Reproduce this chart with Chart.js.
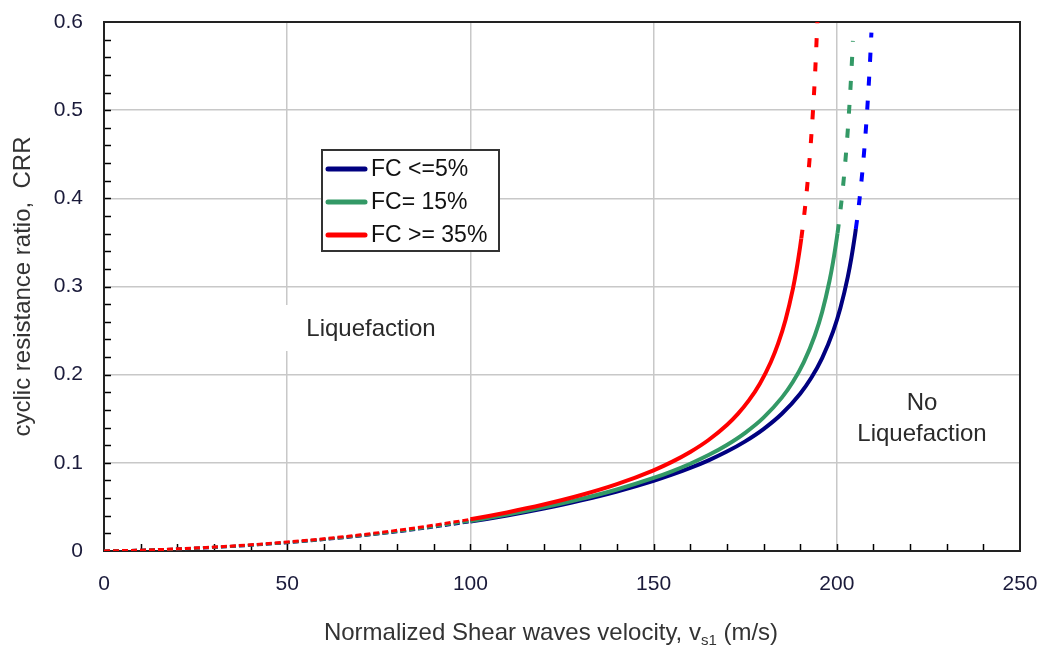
<!DOCTYPE html>
<html>
<head>
<meta charset="utf-8">
<script src="https://cdn.jsdelivr.net/npm/chart.js@4"></script>
<style>
  html, body { margin: 0; padding: 0; background: #ffffff; }
  #wrap { width: 1042px; height: 648px; position: relative; }
</style>
</head>
<body>
<div id="wrap"><canvas id="c" width="1042" height="648"></canvas></div>
<script>
// ---------- data ----------
const xTickValues = [0, 50, 100, 150, 200, 250];
const yTickValues = [0, 0.1, 0.2, 0.3, 0.4, 0.5, 0.6];
const seriesLabels = ['FC <=5%', 'FC= 15%', 'FC >= 35%'];

const vsFC5  = [0, 10, 20, 30, 40, 50, 60, 70, 80, 90, 100, 110, 120, 130, 140, 150, 155, 160, 165, 170, 175, 180, 185, 190, 193, 196, 199, 201, 203, 204, 205, 205.2, 206, 207, 208, 209, 209.45];
const crrFC5 = [0, 0.00086, 0.00222, 0.00409, 0.0065, 0.00945, 0.01296, 0.01707, 0.0218, 0.0272, 0.03333, 0.04026, 0.04813, 0.0571, 0.06743, 0.07955, 0.0865, 0.09421, 0.10287, 0.11278, 0.12435, 0.13826, 0.1556, 0.1784, 0.1962, 0.21886, 0.2491, 0.27586, 0.31097, 0.33308, 0.35943, 0.36533, 0.39145, 0.43125, 0.48216, 0.54974, 0.588];

const vsFC15  = [0, 10, 20, 30, 40, 50, 60, 70, 80, 90, 100, 110, 120, 130, 140, 150, 155, 160, 165, 170, 175, 180, 185, 188, 191, 194, 196, 198, 199, 200, 200.2, 201, 202, 203, 204, 204.4];
const crrFC15 = [0, 0.00089, 0.00228, 0.0042, 0.00666, 0.00967, 0.01325, 0.01745, 0.02229, 0.02782, 0.03412, 0.04129, 0.04946, 0.05885, 0.06979, 0.08283, 0.09043, 0.09899, 0.10878, 0.12025, 0.13404, 0.15128, 0.17396, 0.1917, 0.21429, 0.24447, 0.27118, 0.30625, 0.32833, 0.35467, 0.36056, 0.38666, 0.42644, 0.47733, 0.54489, 0.57858];

const vsFC35  = [0, 10, 20, 30, 40, 50, 60, 70, 80, 90, 100, 110, 120, 130, 140, 150, 155, 160, 165, 170, 173, 176, 179, 182, 184, 186, 188, 189, 190, 190.3, 191, 192, 193, 194, 194.7];
const crrFC35 = [0, 0.00096, 0.00244, 0.00445, 0.00702, 0.01017, 0.01392, 0.01832, 0.02341, 0.02927, 0.036, 0.04373, 0.05268, 0.06318, 0.07579, 0.0915, 0.10108, 0.11232, 0.1259, 0.14291, 0.15555, 0.17081, 0.18982, 0.21443, 0.23548, 0.26211, 0.29709, 0.31913, 0.34542, 0.35433, 0.37737, 0.4171, 0.46795, 0.53547, 0.6];

// where each curve is drawn solid (between these velocities)
const solidStart = [100, 100, 100];
const solidEnd   = [205.2, 200.2, 190.3];

// ---------- styling ----------
const FONT = '"Liberation Sans", Arial, sans-serif';
const colSolid = ['#000080', '#339966', '#ff0000'];
const colDash  = ['#0000ff', '#339966', '#ff0000'];

function toPoints(xs, ys) { return xs.map((x, i) => ({ x: x, y: ys[i] })); }

function makeDataset(i, xs, ys) {
  const s0 = solidStart[i], s1 = solidEnd[i];
  const low = c => c.p0.parsed.x < s0 - 1e-9;
  const high = c => c.p0.parsed.x >= s1 - 1e-9;
  return {
    label: seriesLabels[i],
    data: toPoints(xs, ys),
    borderColor: colSolid[i],
    borderWidth: 4,
    pointRadius: 0,
    pointHoverRadius: 0,
    fill: false,
    cubicInterpolationMode: 'monotone',
    borderCapStyle: 'butt',
    segment: {
      borderColor: c => high(c) ? colDash[i] : colSolid[i],
      borderDash: c => low(c) ? [6, 3] : (high(c) ? [9, 15] : []),
      borderWidth: c => low(c) ? 3 : 4
    }
  };
}

const datasets = [
  makeDataset(2, vsFC35, crrFC35),
  makeDataset(1, vsFC15, crrFC15),
  makeDataset(0, vsFC5, crrFC5)
];

// ---------- plugins ----------
const framePlugin = {
  id: 'frame',
  beforeDatasetsDraw(chart) {
    const { ctx, chartArea: a, scales } = chart;
    ctx.save();
    ctx.strokeStyle = '#000';
    ctx.lineWidth = 1.5;
    for (let v = 10; v < 250; v += 10) {
      const px = Math.round(scales.x.getPixelForValue(v)) + 0.5;
      ctx.beginPath(); ctx.moveTo(px, a.bottom); ctx.lineTo(px, a.bottom - 7); ctx.stroke();
    }
    for (let k = 1; k < 30; k++) {
      const py = Math.round(scales.y.getPixelForValue(k * 0.02)) + 0.5;
      ctx.beginPath(); ctx.moveTo(a.left, py); ctx.lineTo(a.left + 7, py); ctx.stroke();
    }
    ctx.lineWidth = 2;
    ctx.strokeStyle = '#222';
    ctx.strokeRect(a.left, a.top, a.right - a.left, a.bottom - a.top);
    ctx.restore();
  },
  afterDatasetsDraw(chart) {
    const { ctx } = chart;
    ctx.save();
    // region labels
    ctx.fillStyle = '#fff';
    ctx.fillRect(282, 305, 172, 46);
    ctx.fillRect(856, 386, 136, 64);
    ctx.fillStyle = '#2a2a2a';
    ctx.font = '24px ' + FONT;
    ctx.textAlign = 'center';
    ctx.textBaseline = 'middle';
    ctx.fillText('Liquefaction', 371, 329);
    ctx.fillText('No', 922, 403);
    ctx.fillText('Liquefaction', 922, 434);

    // legend
    ctx.fillStyle = '#fff';
    ctx.fillRect(322, 150, 177, 101);
    ctx.strokeStyle = '#333';
    ctx.lineWidth = 2;
    ctx.strokeRect(322, 150, 177, 101);
    const rows = [169, 202, 235];
    for (let i = 0; i < 3; i++) {
      ctx.strokeStyle = colSolid[i];
      ctx.lineWidth = 5;
      ctx.lineCap = 'round';
      ctx.beginPath(); ctx.moveTo(328, rows[i]); ctx.lineTo(365, rows[i]); ctx.stroke();
      ctx.fillStyle = '#111';
      ctx.font = '23px ' + FONT;
      ctx.textAlign = 'left';
      ctx.textBaseline = 'middle';
      ctx.fillText(seriesLabels[i], 371, rows[i] + 1);
    }

    // x-axis title with subscript
    const main = 'Normalized Shear waves velocity, v';
    const sub = 's1';
    const tail = ' (m/s)';
    ctx.fillStyle = '#333';
    ctx.textAlign = 'left';
    ctx.textBaseline = 'middle';
    ctx.font = '24px ' + FONT;
    const w1 = ctx.measureText(main).width;
    const w3 = ctx.measureText(tail).width;
    ctx.font = '15px ' + FONT;
    const w2 = ctx.measureText(sub).width;
    const total = w1 + w2 + w3;
    const x0 = 551 - total / 2;
    const y0 = 633;
    ctx.font = '24px ' + FONT;
    ctx.fillText(main, x0, y0);
    ctx.font = '15px ' + FONT;
    ctx.fillText(sub, x0 + w1, y0 + 8);
    ctx.font = '24px ' + FONT;
    ctx.fillText(tail, x0 + w1 + w2, y0);
    ctx.restore();
  }
};

new Chart(document.getElementById('c'), {
  type: 'line',
  data: { datasets: datasets },
  options: {
    responsive: false,
    animation: false,
    devicePixelRatio: 1,
    layout: { padding: { top: 22, right: 22, left: 0, bottom: 0 } },
    plugins: { legend: { display: false }, tooltip: { enabled: false } },
    events: [],
    scales: {
      x: {
        type: 'linear',
        min: 0, max: 250,
        afterBuildTicks: s => { s.ticks = xTickValues.map(v => ({ value: v })); },
        afterFit: s => { s.height = 97; s.paddingLeft = 0; s.paddingRight = 0; },
        ticks: { font: { family: FONT, size: 21 }, color: '#1a1a3a', padding: 21, maxRotation: 0, autoSkip: false },
        grid: { color: '#c8c8c8', lineWidth: 1.5, drawTicks: false },
        border: { display: true, color: '#000', width: 2 }
      },
      y: {
        type: 'linear',
        min: 0, max: 0.6,
        afterBuildTicks: s => { s.ticks = yTickValues.map(v => ({ value: v })); },
        afterFit: s => { s.width = 104; s.paddingTop = 0; s.paddingBottom = 0; },
        ticks: { font: { family: FONT, size: 21 }, color: '#1a1a3a', padding: 21, autoSkip: false,
                 callback: v => String(v) },
        grid: { color: '#c8c8c8', lineWidth: 1.5, drawTicks: false },
        border: { display: true, color: '#000', width: 2 },
        title: { display: true, text: 'cyclic resistance ratio,  CRR', color: '#333',
                 font: { family: FONT, size: 24 }, padding: { top: 9, bottom: 0 } }
      }
    }
  },
  plugins: [framePlugin]
});
</script>
</body>
</html>
